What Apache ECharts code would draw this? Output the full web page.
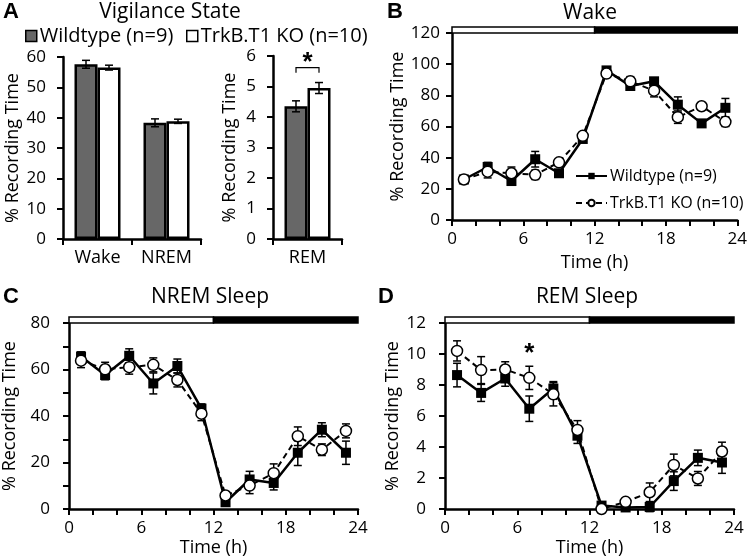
<!DOCTYPE html>
<html><head><meta charset="utf-8">
<script src="https://cdn.jsdelivr.net/npm/echarts@6/dist/echarts.min.js"></script>
<style>html,body{margin:0;padding:0;background:#fff}#c{width:750px;height:559px}</style>
</head><body><div id="c"></div>
<script>
// ---------- DATA ----------
const stateCats = ['Wake', 'NREM'];
const remCats = ['REM'];
const stateWT = [57.6, 38.3];
const stateWTsem = [1.3, 1.3];
const stateKO = [56.5, 38.8];
const stateKOsem = [0.8, 0.7];
const remWT = [4.35];
const remWTsem = [0.18];
const remKO = [4.95];
const remKOsem = [0.18];

const hours = [1, 3, 5, 7, 9, 11, 13, 15, 17, 19, 21, 23];
const wakeWT = [26, 34, 25, 39, 30, 52, 96, 86, 89, 74, 62, 72];
const wakeWTsem = [2, 3, 2, 5, 2, 2, 2, 2, 2, 5, 2, 6];
const wakeKO = [26, 31, 30, 29, 37, 54, 94, 89, 83, 66, 73, 63];
const wakeKOsem = [2, 4, 4, 3, 2, 2, 2, 3, 4, 4, 2, 3];

const nremWT = [65.6, 57.6, 65.9, 54, 61.5, 43.2, 2.9, 12.7, 11.2, 24.2, 34.1, 24.2];
const nremWTsem = [2, 2, 3, 4.5, 3, 2, 1.5, 3.5, 3, 5.5, 3, 5];
const nremKO = [63.8, 60.1, 61, 62, 55.5, 41, 5.8, 10.1, 15.4, 31.3, 25.5, 33.6];
const nremKOsem = [3, 3, 3, 3, 3, 3, 1.5, 3.5, 4, 4, 2.5, 3];

const remHWT = [8.64, 7.49, 8.42, 6.47, 7.77, 4.73, 0.22, 0.1, 0.13, 1.8, 3.3, 3.0];
const remHWTsem = [0.76, 0.55, 0.5, 0.82, 0.45, 0.5, 0.1, 0.1, 0.3, 0.6, 0.5, 0.7];
const remHKO = [10.2, 8.96, 9.0, 8.46, 7.4, 5.1, 0.0, 0.46, 1.08, 2.84, 1.97, 3.71];
const remHKOsem = [0.65, 0.87, 0.5, 0.75, 0.75, 0.6, 0.05, 0.15, 0.6, 0.7, 0.45, 0.6];

const lightDark = [[0, 12, 0], [12, 24, 1]];   // [start h, end h, dark?]
const remBarSig = [[0, 5.45, 5.62]];           // bracket over REM bars
const remHourSig = [[7, 10.0]];                // asterisk in REM sleep panel

const legendLabels = {
  barWT: 'Wildtype (n=9)', barKO: 'TrkB.T1 KO (n=10)',
  lineWT: 'Wildtype (n=9)', lineKO: 'TrkB.T1 KO (n=10)'
};

// ---------- STYLE HELPERS ----------
const FONT = '"Open Sans", "Noto Sans", sans-serif';
const BAR_W = 23;
const axisCommon = {
  axisLine: { show: true, onZero: false, lineStyle: { color: '#000', width: 2.5 } },
  axisTick: { show: true, inside: false, length: 6, lineStyle: { color: '#000', width: 2 } },
  axisLabel: { color: '#000', fontSize: 17, fontFamily: FONT },
  splitLine: { show: false },
  nameTextStyle: { color: '#000', fontSize: 18, fontFamily: FONT }
};
function yAx(gi, max, interval, nameGap, margin, minor) {
  return Object.assign({}, axisCommon, {
    type: 'value', gridIndex: gi, min: 0, max: max, interval: interval,
    name: '% Recording Time', nameLocation: 'middle', nameGap: nameGap,
    axisLabel: Object.assign({}, axisCommon.axisLabel, { margin: margin }),
    minorTick: { show: !!minor, splitNumber: minor || 5, length: 6, lineStyle: { color: '#000', width: 2 } },
    minorSplitLine: { show: false }
  });
}
function xTime(gi, nameGap) {
  return Object.assign({}, axisCommon, {
    type: 'value', gridIndex: gi, min: 0, max: 24, interval: 6,
    name: 'Time (h)', nameLocation: 'middle', nameGap: nameGap,
    axisLabel: Object.assign({}, axisCommon.axisLabel, { margin: 11 }),
    minorTick: { show: true, splitNumber: 3, length: 6, lineStyle: { color: '#000', width: 2 } },
    minorSplitLine: { show: false }
  });
}
function xCat(gi, cats) {
  return Object.assign({}, axisCommon, {
    type: 'category', gridIndex: gi, data: cats,
    axisTick: Object.assign({}, axisCommon.axisTick, { alignWithLabel: false }),
    axisLabel: Object.assign({}, axisCommon.axisLabel, { margin: 10, fontSize: 18 })
  });
}

function errRender(params, api) {
  const x = api.value(0), lo = api.value(1), hi = api.value(2);
  const off = (api.value(3) || 0) * BAR_W / 2;
  const a = api.coord([x, lo]), b = api.coord([x, hi]);
  const X = a[0] + off, w = 4;
  const st = { stroke: '#000', lineWidth: 1.5 };
  return { type: 'group', children: [
    { type: 'line', shape: { x1: X, y1: a[1], x2: X, y2: b[1] }, style: st },
    { type: 'line', shape: { x1: X - w, y1: a[1], x2: X + w, y2: a[1] }, style: st },
    { type: 'line', shape: { x1: X - w, y1: b[1], x2: X + w, y2: b[1] }, style: st }
  ]};
}
function ldRender(params, api) {
  const s = api.value(0), e = api.value(1), dark = api.value(2);
  const ymax = params.coordSys.y; // top of grid
  const a = api.coord([s, 0]), b = api.coord([e, 0]);
  return { type: 'rect', shape: { x: a[0], y: ymax - 6, width: b[0] - a[0], height: 6 },
    style: { fill: dark ? '#000' : '#fff', stroke: '#000', lineWidth: 1.5 } };
}
function bracketRender(params, api) {
  const c = api.value(0), lo = api.value(1), hi = api.value(2);
  const a = api.coord([c, lo]), b = api.coord([c, hi]);
  const x1 = a[0] - BAR_W / 2, x2 = a[0] + BAR_W / 2;
  const st = { stroke: '#000', lineWidth: 1.2, fill: null };
  return { type: 'group', children: [
    { type: 'polyline', shape: { points: [[x1, a[1]], [x1, b[1]], [x2, b[1]], [x2, a[1]]] }, style: st },
    { type: 'text', x: a[0], y: b[1] + 8, style: { text: '*', font: 'bold 26px Arial', align: 'center', verticalAlign: 'bottom', fill: '#000' } }
  ]};
}
function starRender(params, api) {
  const p = api.coord([api.value(0), api.value(1)]);
  return { type: 'text', x: p[0], y: p[1], style: { text: '*', font: 'bold 26px Arial', align: 'center', verticalAlign: 'middle', fill: '#000' } };
}
function errData(xs, vals, sem, sign) {
  return vals.map((v, i) => [xs[i], v - sem[i], v + sem[i], sign || 0]);
}
function pts(vals) { return vals.map((v, i) => [hours[i], v]); }

function lineWT(name, gi, vals) {
  return { type: 'line', name: name, xAxisIndex: gi, yAxisIndex: gi, data: pts(vals),
    symbol: 'rect', symbolSize: 10, showAllSymbol: true, z: 4,
    itemStyle: { color: '#000' }, lineStyle: { color: '#000', width: 2.5 } };
}
function lineKO(name, gi, vals) {
  return { type: 'line', name: name, xAxisIndex: gi, yAxisIndex: gi, data: pts(vals),
    symbol: 'circle', symbolSize: 11, showAllSymbol: true, z: 5,
    itemStyle: { color: '#fff', borderColor: '#000', borderWidth: 1.5 },
    lineStyle: { color: '#000', width: 2, type: [6, 4] } };
}
function errSeries(gi, xs, vals, sem, sign) {
  return { type: 'custom', xAxisIndex: gi, yAxisIndex: gi, renderItem: errRender, z: 3,
    data: errData(xs, vals, sem, sign), clip: false, silent: true };
}
function ldSeries(gi) {
  return { type: 'custom', xAxisIndex: gi, yAxisIndex: gi, renderItem: ldRender, z: 6,
    data: lightDark, clip: false, silent: true };
}

const chart = echarts.init(document.getElementById('c'), null, { renderer: 'canvas' });
const option = {
  animation: false,
  backgroundColor: '#fff',
  textStyle: { fontFamily: FONT },
  grid: [
    { left: 63, top: 57, width: 138, height: 182 },
    { left: 273, top: 56, width: 69, height: 183 },
    { left: 452, top: 33, width: 290, height: 187 },
    { left: 69, top: 323, width: 289, height: 186 },
    { left: 445, top: 323, width: 289, height: 186 }
  ],
  xAxis: [
    xCat(0, stateCats), xCat(1, remCats),
    xTime(2, 34), xTime(3, 30), xTime(4, 30)
  ],
  yAxis: [
    yAx(0, 60, 10, 41, 17),
    yAx(1, 6, 1, 34, 17),
    yAx(2, 120, 20, 40, 12),
    yAx(3, 80, 20, 50, 19, 2),
    yAx(4, 12, 2, 43, 19)
  ],
  legend: [
    { data: ['barWT'], left: 20, top: 21, icon: 'rect', itemWidth: 11, itemHeight: 11,
      itemStyle: { borderWidth: 1.5 }, formatter: n => legendLabels[n],
      textStyle: { fontSize: 20, color: '#000', fontFamily: FONT, padding: [0, 0, 0, -2] } },
    { data: ['barKO'], left: 181, top: 21, icon: 'rect', itemWidth: 11, itemHeight: 11,
      itemStyle: { borderWidth: 1.5 }, formatter: n => legendLabels[n],
      textStyle: { fontSize: 20, color: '#000', fontFamily: FONT, padding: [0, 0, 0, -2] } },
    { data: ['lineWT', 'lineKO'], orient: 'vertical', left: 570, top: 163, itemWidth: 31, itemHeight: 8,
      itemGap: 11, formatter: n => legendLabels[n],
      textStyle: { fontSize: 16, color: '#000', fontFamily: FONT, padding: [0, 0, 0, -2] } }
  ],
  graphic: [
    { type: 'text', x: 11, y: 12, style: { text: 'A', font: 'bold 22px Arial', align: 'center', verticalAlign: 'middle', fill: '#000' } },
    { type: 'text', x: 395, y: 12, style: { text: 'B', font: 'bold 22px Arial', align: 'center', verticalAlign: 'middle', fill: '#000' } },
    { type: 'text', x: 11, y: 297, style: { text: 'C', font: 'bold 22px Arial', align: 'center', verticalAlign: 'middle', fill: '#000' } },
    { type: 'text', x: 386, y: 297, style: { text: 'D', font: 'bold 22px Arial', align: 'center', verticalAlign: 'middle', fill: '#000' } },
    { type: 'text', x: 170, y: 12, style: { text: 'Vigilance State', font: '21px ' + FONT, align: 'center', verticalAlign: 'middle', fill: '#000' } },
    { type: 'text', x: 590, y: 13, style: { text: 'Wake', font: '21px ' + FONT, align: 'center', verticalAlign: 'middle', fill: '#000' } },
    { type: 'text', x: 210, y: 297, style: { text: 'NREM Sleep', font: '21px ' + FONT, align: 'center', verticalAlign: 'middle', fill: '#000' } },
    { type: 'text', x: 587, y: 297, style: { text: 'REM Sleep', font: '21px ' + FONT, align: 'center', verticalAlign: 'middle', fill: '#000' } }
  ],
  series: [
    // Panel A bars
    { type: 'bar', name: 'barWT', xAxisIndex: 0, yAxisIndex: 0, data: stateWT, barWidth: BAR_W, barGap: '0%',
      itemStyle: { color: '#676767', borderColor: '#000', borderWidth: 2.5 }, z: 2 },
    { type: 'bar', name: 'barKO', xAxisIndex: 0, yAxisIndex: 0, data: stateKO, barWidth: BAR_W, barGap: '0%',
      itemStyle: { color: '#fff', borderColor: '#000', borderWidth: 2.5 }, z: 2 },
    { type: 'custom', xAxisIndex: 0, yAxisIndex: 0, renderItem: errRender, z: 3, clip: false,
      data: errData([0, 1], stateWT, stateWTsem, -1) },
    { type: 'custom', xAxisIndex: 0, yAxisIndex: 0, renderItem: errRender, z: 3, clip: false,
      data: errData([0, 1], stateKO, stateKOsem, 1) },
    { type: 'bar', name: 'remWT', xAxisIndex: 1, yAxisIndex: 1, data: remWT, barWidth: BAR_W, barGap: '0%',
      itemStyle: { color: '#676767', borderColor: '#000', borderWidth: 2.5 }, z: 2 },
    { type: 'bar', name: 'remKO', xAxisIndex: 1, yAxisIndex: 1, data: remKO, barWidth: BAR_W, barGap: '0%',
      itemStyle: { color: '#fff', borderColor: '#000', borderWidth: 2.5 }, z: 2 },
    { type: 'custom', xAxisIndex: 1, yAxisIndex: 1, renderItem: errRender, z: 3, clip: false,
      data: errData([0], remWT, remWTsem, -1) },
    { type: 'custom', xAxisIndex: 1, yAxisIndex: 1, renderItem: errRender, z: 3, clip: false,
      data: errData([0], remKO, remKOsem, 1) },
    { type: 'custom', xAxisIndex: 1, yAxisIndex: 1, renderItem: bracketRender, z: 3, clip: false,
      data: remBarSig },
    // Panel B
    ldSeries(2),
    errSeries(2, hours, wakeWT, wakeWTsem),
    errSeries(2, hours, wakeKO, wakeKOsem),
    lineWT('lineWT', 2, wakeWT),
    lineKO('lineKO', 2, wakeKO),
    // Panel C
    ldSeries(3),
    errSeries(3, hours, nremWT, nremWTsem),
    errSeries(3, hours, nremKO, nremKOsem),
    lineWT('nremWT', 3, nremWT),
    lineKO('nremKO', 3, nremKO),
    // Panel D
    ldSeries(4),
    errSeries(4, hours, remHWT, remHWTsem),
    errSeries(4, hours, remHKO, remHKOsem),
    lineWT('remHWT', 4, remHWT),
    lineKO('remHKO', 4, remHKO),
    { type: 'custom', xAxisIndex: 4, yAxisIndex: 4, renderItem: starRender, z: 6, clip: false,
      data: remHourSig }
  ]
};
chart.setOption(option);
</script>
</body></html>
